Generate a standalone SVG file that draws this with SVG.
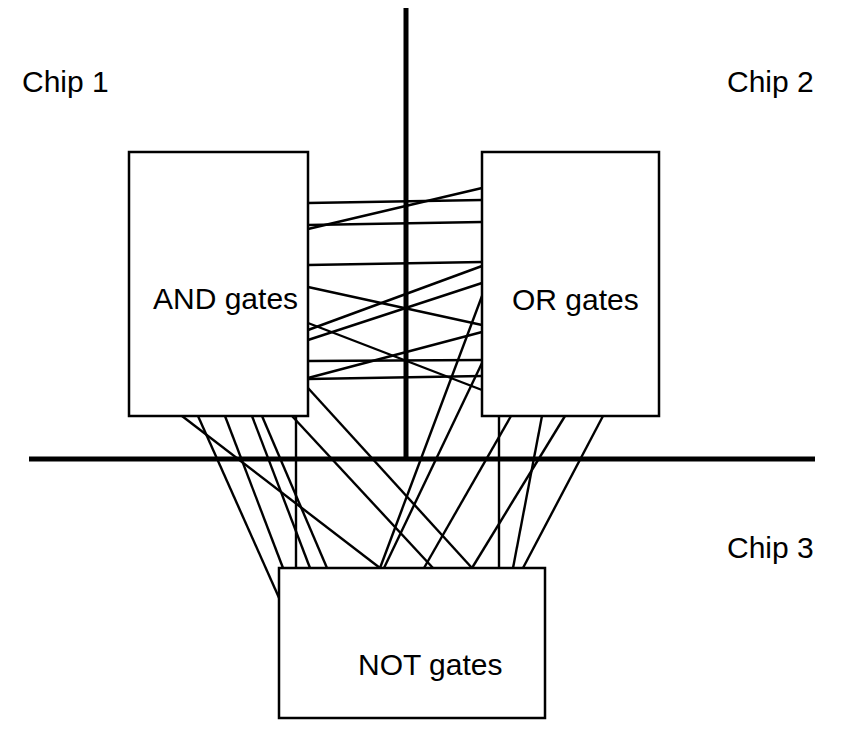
<svg xmlns="http://www.w3.org/2000/svg" width="841" height="746" viewBox="0 0 841 746">
  <style>
    .bg { fill: #ffffff; }
    .divider { stroke: #000; stroke-width: 5; fill: none; }
    .box { fill: #ffffff; stroke: #000; stroke-width: 2.5; }
    .wire { stroke: #000; stroke-width: 2.4; fill: none; }
    .label { font-family: "Liberation Sans", Arial, Helvetica, sans-serif; font-size: 30px; fill: #000; }
  </style>

  <rect class="bg" x="0" y="0" width="841" height="746"/>

  <!-- chip boundaries -->
  <g id="partitions">
    <line class="divider" x1="406" y1="8" x2="406" y2="459"/>
    <line class="divider" x1="29" y1="459" x2="815" y2="459"/>
  </g>

  <!-- chip labels -->
  <g id="chip-labels">
    <text class="label" x="22" y="92">Chip 1</text>
    <text class="label" x="727" y="92">Chip 2</text>
    <text class="label" x="727" y="558">Chip 3</text>
  </g>

  <!-- wires between gate blocks -->
  <g id="connectors">
    <!-- AND <-> OR -->
    <line class="wire" x1="308" y1="203" x2="482" y2="200"/>
    <line class="wire" x1="308" y1="229" x2="482" y2="188"/>
    <line class="wire" x1="308" y1="225" x2="482" y2="222"/>
    <line class="wire" x1="308" y1="265" x2="482" y2="262"/>
    <line class="wire" x1="308" y1="330" x2="482" y2="266"/>
    <line class="wire" x1="308" y1="340" x2="482" y2="283"/>
    <line class="wire" x1="308" y1="287" x2="482" y2="325"/>
    <line class="wire" x1="308" y1="323" x2="482" y2="390"/>
    <line class="wire" x1="308" y1="378" x2="482" y2="332"/>
    <line class="wire" x1="308" y1="361" x2="482" y2="360"/>
    <line class="wire" x1="308" y1="379" x2="482" y2="376"/>

    <!-- AND -> NOT -->
    <line class="wire" x1="182" y1="416" x2="380" y2="568"/>
    <line class="wire" x1="198" y1="416" x2="280" y2="600"/>
    <line class="wire" x1="225" y1="416" x2="283" y2="568"/>
    <line class="wire" x1="252" y1="416" x2="310" y2="568"/>
    <line class="wire" x1="262" y1="416" x2="327" y2="568"/>
    <line class="wire" x1="296" y1="416" x2="296" y2="568"/>
    <line class="wire" x1="292" y1="416" x2="433" y2="568"/>
    <line class="wire" x1="308" y1="388" x2="472" y2="568"/>

    <!-- OR -> NOT -->
    <line class="wire" x1="482" y1="296" x2="380" y2="568"/>
    <line class="wire" x1="482" y1="363" x2="384" y2="568"/>
    <line class="wire" x1="499" y1="416" x2="499" y2="568"/>
    <line class="wire" x1="511" y1="416" x2="424" y2="568"/>
    <line class="wire" x1="542" y1="416" x2="513" y2="568"/>
    <line class="wire" x1="565" y1="416" x2="472" y2="568"/>
    <line class="wire" x1="603" y1="416" x2="523" y2="568"/>
  </g>

  <!-- gate blocks -->
  <g id="and-gates">
    <rect class="box" x="129" y="152" width="179" height="264"/>
    <text class="label" x="153" y="309">AND gates</text>
  </g>
  <g id="or-gates">
    <rect class="box" x="482" y="152" width="177" height="264"/>
    <text class="label" x="512" y="310">OR gates</text>
  </g>
  <g id="not-gates">
    <rect class="box" x="279" y="568" width="266" height="150"/>
    <text class="label" x="358" y="675">NOT gates</text>
  </g>
</svg>
